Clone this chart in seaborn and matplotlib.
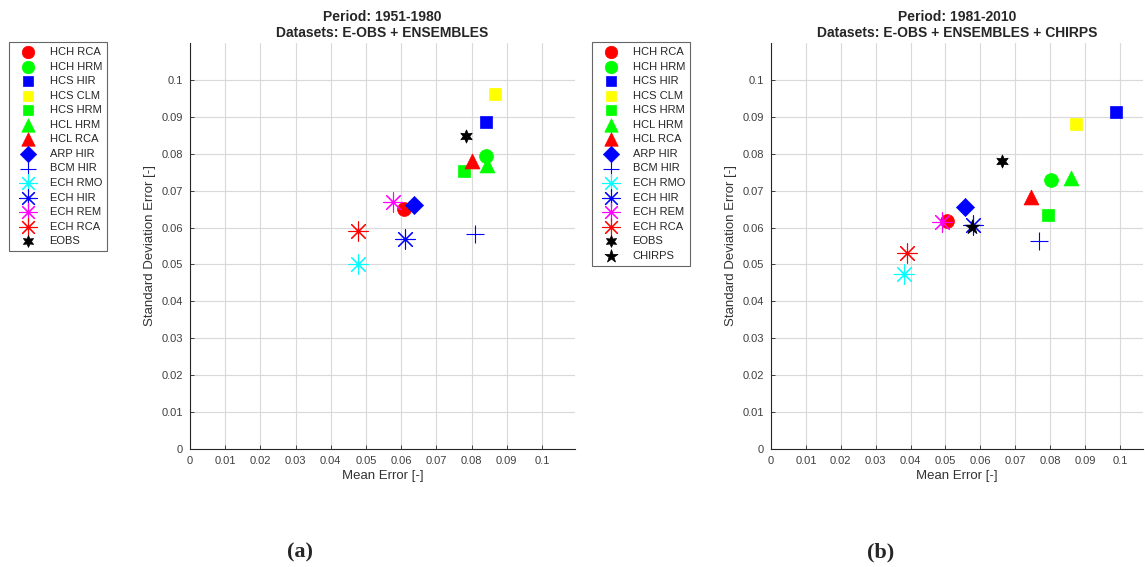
"""
Mean error vs standard deviation error for the regional climate models,
two reference periods side by side.
"""
import matplotlib
matplotlib.use("Agg")
import matplotlib.pyplot as plt
import seaborn as sns

#================================
#DATA
#================================
models = ["HCH RCA", "HCH HRM", "HCS HIR", "HCS CLM", "HCS HRM", "HCL HRM",
          "HCL RCA", "ARP HIR", "BCM HIR", "ECH RMO", "ECH HIR", "ECH REM",
          "ECH RCA", "EOBS", "CHIRPS"]
colors = ["#ff0000", "#00ff00", "#0000ff", "#ffff00", "#00ff00", "#00ff00",
          "#ff0000", "#0000ff", "#0000ff", "#00ffff", "#0000ff", "#ff00ff",
          "#ff0000", "#000000", "#000000"]
markers = ["o", "o", "s", "s", "s", "^", "^", "D", "+",
           (8, 2, 0), (8, 2, 0), (8, 2, 0), (8, 2, 0), (6, 1, 0), "*"]
sizes = [100, 100, 75, 75, 75, 115, 115, 85, 150, 190, 190, 190, 190, 90, 120]

# period 1951-1980 (no CHIRPS)
mean_a = [0.0608, 0.0841, 0.0841, 0.0868, 0.0779, 0.0844, 0.0800,
          0.0636, 0.0811, 0.0476, 0.0612, 0.0578, 0.0476, 0.0784]
std_a = [0.0650, 0.0795, 0.0886, 0.0963, 0.0753, 0.0770, 0.0781,
         0.0660, 0.0582, 0.0502, 0.0569, 0.0669, 0.0591, 0.0848]

# period 1981-2010
mean_b = [0.0503, 0.0801, 0.0989, 0.0873, 0.0793, 0.0860, 0.0745,
          0.0555, 0.0769, 0.0382, 0.0580, 0.0489, 0.0389, 0.0662, 0.0575]
std_b = [0.0618, 0.0729, 0.0912, 0.0881, 0.0635, 0.0734, 0.0684,
         0.0657, 0.0564, 0.0473, 0.0607, 0.0614, 0.0532, 0.0780, 0.0601]

titles = ["Period: 1951-1980\nDatasets: E-OBS + ENSEMBLES",
          "Period: 1981-2010\nDatasets: E-OBS + ENSEMBLES + CHIRPS"]
ticks = [0, 0.01, 0.02, 0.03, 0.04, 0.05, 0.06, 0.07, 0.08, 0.09, 0.1]
tick_labels = ["0", "0.01", "0.02", "0.03", "0.04", "0.05", "0.06",
               "0.07", "0.08", "0.09", "0.1"]

sns.set_theme(style="white")
plt.rcParams["font.family"] = ["Liberation Sans", "DejaVu Sans"]

W, H = 1145, 567
fig = plt.figure(figsize=(W / 100, H / 100), dpi=100)


def draw_panel(rect, xs, ys, title, xmax, legend_anchor):
    ax = fig.add_axes(rect)
    for i in range(len(xs)):
        filled = markers[i] not in ("+", (8, 2, 0))
        sns.scatterplot(x=[xs[i]], y=[ys[i]], ax=ax, marker=markers[i],
                        color=colors[i], s=sizes[i],
                        edgecolor=colors[i],
                        linewidth=0.5 if filled else 0.8,
                        label=models[i], legend=False, zorder=3)
    ax.set_xlim(0, xmax)
    ax.set_ylim(0, 0.11)
    ax.set_xticks(ticks)
    ax.set_xticklabels(tick_labels)
    ax.set_yticks(ticks)
    ax.set_yticklabels(tick_labels)
    ax.grid(True, color="#d9d9d9", linewidth=0.8)
    ax.set_axisbelow(True)
    for s in ["top", "right"]:
        ax.spines[s].set_visible(False)
    for s in ["left", "bottom"]:
        ax.spines[s].set_color("#262626")
        ax.spines[s].set_linewidth(0.8)
    ax.tick_params(direction="in", length=3, width=0.6, colors="#262626",
                   labelsize=8, labelcolor="#404040", pad=5,
                   bottom=True, left=True)
    ax.set_xlabel("Mean Error [-]", fontsize=9.5, color="#333333", labelpad=3)
    ax.set_ylabel("Standard Deviation Error [-]", fontsize=9.5,
                  color="#333333", labelpad=4)
    ax.set_title(title, fontsize=10, fontweight="bold", pad=4,
                 linespacing=1.2)

    handles, labels = ax.get_legend_handles_labels()
    leg = fig.legend(handles, labels, loc="upper left",
                     bbox_to_anchor=legend_anchor, borderaxespad=0,
                     frameon=True, fancybox=False, edgecolor="#404040",
                     fontsize=8, labelspacing=0.41, handletextpad=0.75,
                     borderpad=0.45, handlelength=2.45, scatterpoints=1,
                     markerscale=0.9)
    leg.get_frame().set_linewidth(0.8)
    return ax


ax_b_bottom = 1 - 449 / H
ax_h = 406 / H
draw_panel([190 / W, ax_b_bottom, 385 / W, ax_h], mean_a, std_a,
           titles[0], 0.1094, (9 / W, 1 - 42 / H))
draw_panel([771 / W, ax_b_bottom, 372 / W, ax_h], mean_b, std_b,
           titles[1], 0.1066, (592 / W, 1 - 42 / H))

fig.text(300 / W, 1 - 552 / H, "(a)", ha="center", va="center",
         fontsize=16, fontweight="bold", family="Liberation Serif")
fig.text(881 / W, 1 - 552 / H, "(b)", ha="center", va="center",
         fontsize=16, fontweight="bold", family="Liberation Serif")

fig.savefig("out.png", dpi=100)
plt.close(fig)
